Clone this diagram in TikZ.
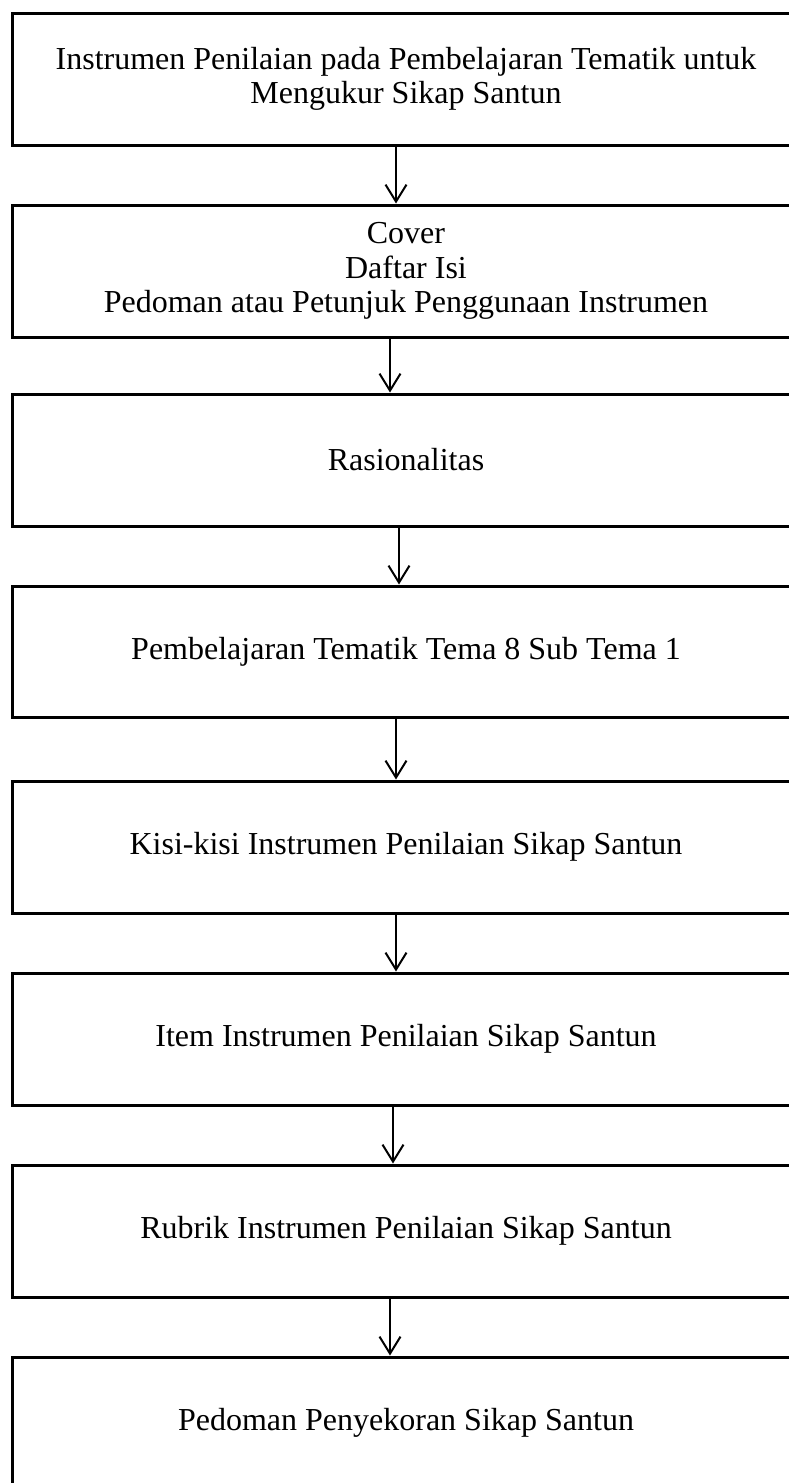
\documentclass[tikz,border=0pt]{standalone}
\usepackage{fontspec}
\setmainfont{Liberation Serif}
\usetikzlibrary{arrows.meta}
\begin{document}
\begin{tikzpicture}[x=1pt,y=1pt,
  stepbox/.style={draw=black,line width=3pt,minimum width=788pt,minimum height=132pt,inner sep=0pt,align=center,font=\fontsize{32}{34.5}\selectfont},
  flow/.style={line width=2pt,-{Straight Barb[length=17pt,width=21pt,line width=2pt]}}]
\useasboundingbox[fill=white] (0,0) rectangle (789,-1483);
\node[stepbox] (b1) at (406,-79) {Instrumen Penilaian pada Pembelajaran Tematik untuk\\Mengukur Sikap Santun};
\node[stepbox] (b2) at (406,-271) {Cover\\Daftar Isi\\Pedoman atau Petunjuk Penggunaan Instrumen};
\node[stepbox] (b3) at (406,-460) {Rasionalitas};
\node[stepbox,minimum height=131pt] (b4) at (406,-651.5) {Pembelajaran Tematik Tema 8 Sub Tema 1};
\node[stepbox] (b5) at (406,-847) {Kisi-kisi Instrumen Penilaian Sikap Santun};
\node[stepbox] (b6) at (406,-1039) {Item Instrumen Penilaian Sikap Santun};
\node[stepbox] (b7) at (406,-1231) {Rubrik Instrumen Penilaian Sikap Santun};
\node[stepbox] (b8) at (406,-1423) {Pedoman Penyekoran Sikap Santun};
\draw[flow] ([xshift=-10pt]b1.south) -- ([xshift=-10pt]b2.north);
\draw[flow] ([xshift=-16pt]b2.south) -- ([xshift=-16pt]b3.north);
\draw[flow] ([xshift=-7pt]b3.south) -- ([xshift=-7pt]b4.north);
\draw[flow] ([xshift=-10pt]b4.south) -- ([xshift=-10pt]b5.north);
\draw[flow] ([xshift=-10pt]b5.south) -- ([xshift=-10pt]b6.north);
\draw[flow] ([xshift=-13pt]b6.south) -- ([xshift=-13pt]b7.north);
\draw[flow] ([xshift=-16pt]b7.south) -- ([xshift=-16pt]b8.north);
\end{tikzpicture}
\end{document}
